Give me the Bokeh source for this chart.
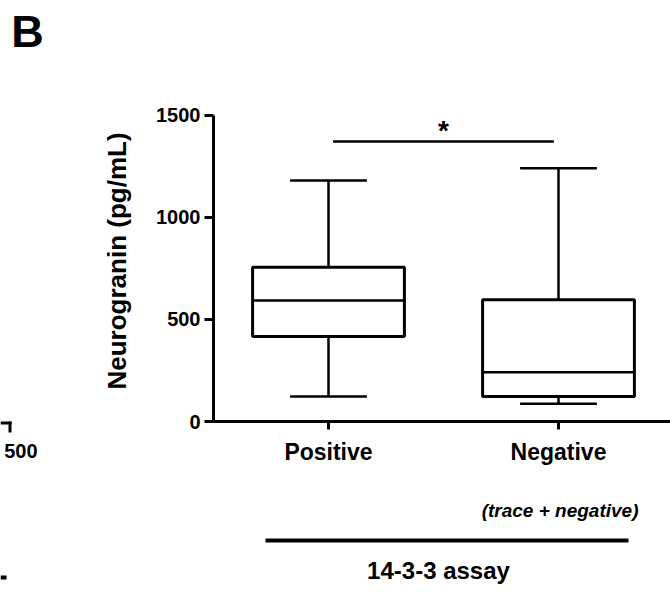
from bokeh.plotting import figure
from bokeh.layouts import column, row
from bokeh.models import Range1d, FixedTicker
from bokeh.embed import file_html
from bokeh.resources import INLINE
from bokeh.core.properties import value

# ---- data ----
groups = ["Positive", "Negative"]
group_x = [1, 2]
q1 = [416, 122]
medians = [592, 241]
q3 = [755, 596]
whisker_low = [122, 87]
whisker_high = [1180, 1240]
y_ticks = [0, 500, 1000, 1500]
sig_x = [1.02, 1.98]
sig_y = 1370
sig_text = "*"
y_label = "Neurogranin (pg/mL)"
sub_label = "(trace + negative)"
assay_label = "14-3-3 assay"
panel_letter = "B"
fragment_label = "500"

# ---- layout (canvas pixels) ----
W, H = 670, 596
TOP_H = 60          # strip with the panel letter
MID_H = 420         # row with the chart
BOT_H = H - TOP_H - MID_H
LEFT_W = 60         # strip left of the chart (neighbour panel fragment)
FRAME_L, FRAME_B, FRAME_T = 213, 421, 100
PX_Y = 306.5 / 1500.0
PX_X = 230.0
FONT = "Liberation Sans"


def strip(w, h):
    f = figure(width=w, height=h, output_backend="svg", toolbar_location=None,
               x_range=Range1d(0, w), y_range=Range1d(h, 0),
               x_axis_type=None, y_axis_type=None, frame_align=False,
               min_border=0, min_border_left=0, min_border_right=0,
               min_border_top=0, min_border_bottom=0)
    f.outline_line_color = None
    f.xgrid.visible = False
    f.ygrid.visible = False
    f.background_fill_color = "white"
    f.border_fill_color = "white"
    return f


def put_text(f, txt, x, y, size, style="bold", align="center", baseline="middle", angle=0.0):
    f.text(x=[x], y=[y], text=[txt], text_font=value(FONT), text_font_style=style,
           text_font_size=size, text_align=align, text_baseline=baseline,
           text_color="black", angle=angle)


def put_bar(f, x0, x1, y0, y1):
    f.quad(left=[x0], right=[x1], top=[y0], bottom=[y1], fill_color="black",
           line_color=None)


# ---- main chart ----
main_w = W - LEFT_W
p = figure(width=main_w, height=MID_H, output_backend="svg", toolbar_location=None,
           x_range=Range1d(0.5, 0.5 + (W - FRAME_L) / PX_X),
           y_range=Range1d(0, (FRAME_B - FRAME_T) / PX_Y),
           frame_align=False,
           min_border_left=FRAME_L - LEFT_W, min_border_right=0,
           min_border_top=FRAME_T - TOP_H,
           min_border_bottom=TOP_H + MID_H - FRAME_B)
p.outline_line_color = None
p.xgrid.visible = False
p.ygrid.visible = False
p.background_fill_color = "white"
p.border_fill_color = "white"

ya = p.yaxis[0]
ya.ticker = FixedTicker(ticks=y_ticks)
ya.bounds = (y_ticks[0], y_ticks[-1])
ya.axis_line_width = 3
ya.major_tick_line_width = 3
ya.major_tick_out = 9
ya.major_tick_in = 0
ya.minor_tick_line_color = None
ya.major_label_standoff = 4
ya.major_label_text_font = FONT
ya.major_label_text_font_style = "bold"
ya.major_label_text_font_size = "20px"
ya.major_label_text_color = "black"
ya.axis_label = y_label
ya.axis_label_text_font = FONT
ya.axis_label_text_font_style = "bold"
ya.axis_label_text_font_size = "26px"
ya.axis_label_text_color = "black"
ya.axis_label_standoff = 21

xa = p.xaxis[0]
xa.ticker = FixedTicker(ticks=group_x)
xa.major_label_overrides = {gx: g for gx, g in zip(group_x, groups)}
xa.axis_line_width = 3
xa.major_tick_line_width = 3
xa.major_tick_out = 8
xa.major_tick_in = 0
xa.minor_tick_line_color = None
xa.major_label_standoff = 9
xa.major_label_text_font = FONT
xa.major_label_text_font_style = "bold"
xa.major_label_text_font_size = "23px"
xa.major_label_text_color = "black"

BOX_HALF = 0.33
CAP_HALF = 0.167

p.segment(x0=group_x, y0=q3, x1=group_x, y1=whisker_high, line_color="black", line_width=2.5)
p.segment(x0=group_x, y0=q1, x1=group_x, y1=whisker_low, line_color="black", line_width=2.5)
p.segment(x0=[x - CAP_HALF for x in group_x], y0=whisker_high,
          x1=[x + CAP_HALF for x in group_x], y1=whisker_high, line_color="black", line_width=2.5)
p.segment(x0=[x - CAP_HALF for x in group_x], y0=whisker_low,
          x1=[x + CAP_HALF for x in group_x], y1=whisker_low, line_color="black", line_width=2.5)
p.quad(left=[x - BOX_HALF for x in group_x], right=[x + BOX_HALF for x in group_x],
       bottom=q1, top=q3, fill_color="white", line_color="black", line_width=3)
p.segment(x0=[x - BOX_HALF for x in group_x], y0=medians,
          x1=[x + BOX_HALF for x in group_x], y1=medians, line_color="black", line_width=2.5)

p.segment(x0=[sig_x[0]], y0=[sig_y], x1=[sig_x[1]], y1=[sig_y], line_color="black", line_width=2.5)
p.text(x=[(sig_x[0] + sig_x[1]) / 2], y=[sig_y], text=[sig_text], text_align="center",
       text_baseline="bottom", text_font=value(FONT), text_font_style="bold",
       text_font_size="28px", text_color="black", y_offset=4)

# ---- strips around the chart ----
top = strip(W, TOP_H)
put_text(top, panel_letter, 27, 31, "45px")

left = strip(LEFT_W, MID_H)
# fragment of the neighbouring panel at the left edge
put_bar(left, 0, 11, 421 - TOP_H, 424 - TOP_H)
put_bar(left, 8, 11, 421 - TOP_H, 432 - TOP_H)
put_text(left, fragment_label, 37, 450 - TOP_H, "20px", align="right")

bottom = strip(W, BOT_H)
y0b = TOP_H + MID_H
put_text(bottom, sub_label, 638, 510 - y0b, "19px", style="bold italic", align="right")
put_bar(bottom, 265, 628, 538 - y0b, 542 - y0b)
put_text(bottom, assay_label, 438, 570 - y0b, "24px")
put_bar(bottom, 0, 6, 575 - y0b, 579 - y0b)

layout = column(top, row(left, p, spacing=0), bottom, spacing=0)
open("out.html", "w").write(file_html(layout, INLINE))
